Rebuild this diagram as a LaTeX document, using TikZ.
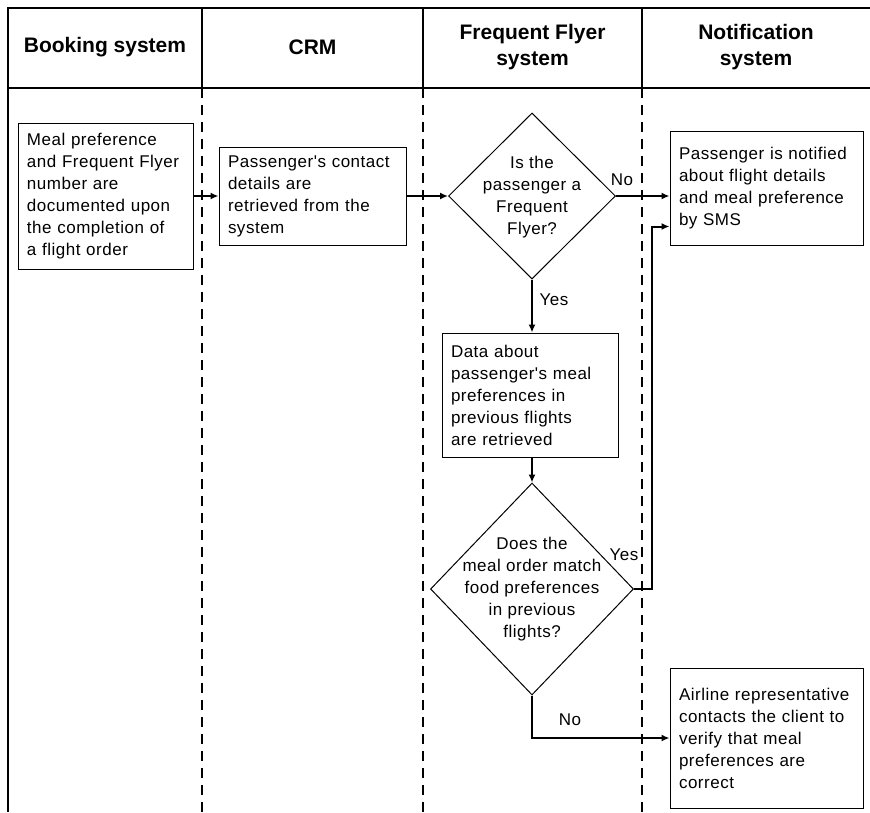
\documentclass[tikz,border=0pt]{standalone}
\usepackage{fontspec}
\setmainfont{Liberation Sans}
\newfontfamily\mybodyfont{Liberation Sans}[LetterSpace=3]
\usetikzlibrary{arrows.meta,shapes.geometric,calc}
\newcommand\mybodytext{\mybodyfont\fontsize{17}{22}\selectfont}
\newcommand\myheadtext{\bfseries\fontsize{21}{26}\selectfont}
\tikzset{
  frameline/.style={line width=1.8pt},
  laneline/.style={line width=2pt, dash pattern=on 10pt off 7pt},
  box/.style={draw, line width=1pt, align=left, inner xsep=9pt, inner ysep=0pt, font=\mybodytext},
  decision/.style={draw, diamond, line width=1pt, inner sep=0pt},
  dtext/.style={align=center, font=\mybodytext, inner sep=0pt},
  head/.style={align=center, font=\myheadtext, inner sep=0pt},
  conn/.style={line width=2pt, -{Latex[length=8pt,width=7pt]}},
  lbl/.style={font=\mybodytext, inner sep=1pt}
}
\begin{document}
\begin{tikzpicture}[x={(1pt,0pt)}, y={(0pt,-1pt)}]
\useasboundingbox (0,0) rectangle (870,812);
% frame and header
\draw[frameline] (870,8) -- (8,8) -- (8,812);
\draw[frameline] (8,88) -- (870,88);
\draw[frameline] (202,8) -- (202,88);
\draw[frameline] (423,8) -- (423,88);
\draw[frameline] (642,8) -- (642,88);
\draw[laneline] (202,88) -- (202,812);
\draw[laneline] (423,88) -- (423,812);
\draw[laneline] (642,88) -- (642,812);
\node[head] (h1) at (105,47) {Booking system};
\node[head] (h2) at (312.5,47) {CRM};
\node[head] (h3) at (532.5,47) {Frequent Flyer\\system};
\node[head] (h4) at (756,47) {Notification\\system};
% boxes
\node[box, text width=157pt, minimum height=146pt] (b1) at (105.5,196)
  {Meal preference\\and Frequent Flyer\\number are\\documented upon\\the completion of\\a flight order};
\node[box, text width=169pt, minimum height=98pt] (b2) at (312.5,196)
  {Passenger's contact\\details are\\retrieved from the\\system};
\node[decision, minimum width=167pt, minimum height=166pt] (d1) at (532,196) {};
\node[dtext] (t1) at (532,197) {Is the\\passenger a\\Frequent\\Flyer?};
\node[box, text width=175pt, minimum height=114pt] (nb) at (766.5,188)
  {Passenger is notified\\about flight details\\and meal preference\\by SMS};
\node[box, text width=158pt, minimum height=124pt] (data) at (530,395)
  {Data about\\passenger's meal\\preferences in\\previous flights\\are retrieved};
\node[decision, minimum width=203pt, minimum height=212pt] (d2) at (532,589) {};
\node[dtext] (t2) at (532,589) {Does the\\meal order match\\food preferences\\in previous\\flights?};
\node[box, text width=175pt, minimum height=140pt] (b3) at (766.5,738)
  {Airline representative\\contacts the client to\\verify that meal\\preferences are\\correct};
% connectors
\draw[conn] (b1.east) -- (b1.east -| b2.west);
\draw[conn] (b2.east) -- (d1.west);
\draw[conn] (d1.east) -- (d1.east -| nb.west);
\draw[conn] (d1.south) -- (d1.south |- data.north);
\draw[conn] (data.south -| d2.north) -- (d2.north);
\coordinate (nbin) at ([yshift=19pt]nb.south west);
\draw[conn] (d2.east) -- ++(18,0) |- (nbin);
\draw[conn] (d2.south) |- (b3.west);
% labels
\node[lbl] (l1) at (622,180) {No};
\node[lbl] (l2) at (554,300) {Yes};
\node[lbl] (l3) at (624,555) {Yes};
\node[lbl] (l4) at (570,720) {No};
\end{tikzpicture}
\end{document}
